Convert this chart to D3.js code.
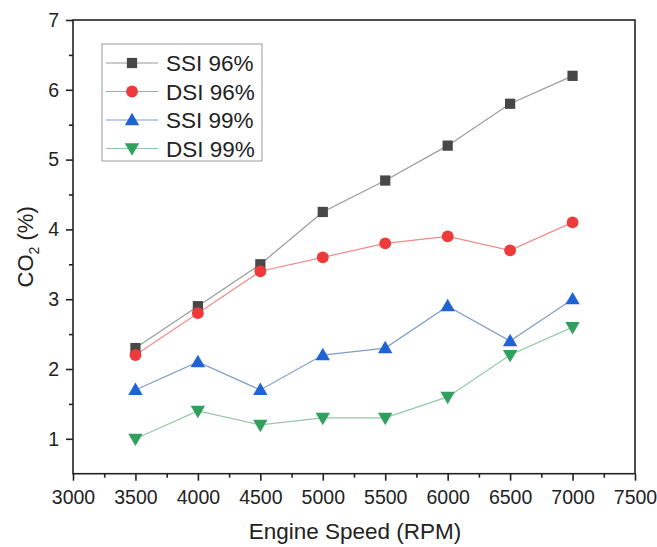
<!DOCTYPE html>
<html><head><meta charset="utf-8">
<script src="https://cdn.jsdelivr.net/npm/d3@7"></script>
<style>body{margin:0;background:#fff}svg{display:block}text{font-family:"Liberation Sans",Arial,sans-serif}</style>
</head><body><svg id="c" width="657" height="547"></svg>
<script>
const rpm = [3500,4000,4500,5000,5500,6000,6500,7000];
const ssi96 = [2.3,2.9,3.5,4.25,4.7,5.2,5.8,6.2];
const dsi96 = [2.2,2.8,3.4,3.6,3.8,3.9,3.7,4.1];
const ssi99 = [1.7,2.1,1.7,2.2,2.3,2.9,2.4,3.0];
const dsi99 = [1.0,1.4,1.2,1.3,1.3,1.6,2.2,2.6];
const xTicks = [3000,3500,4000,4500,5000,5500,6000,6500,7000,7500];
const yTicks = [1,2,3,4,5,6,7];
const seriesNames = ["SSI 96%","DSI 96%","SSI 99%","DSI 99%"];

const series = [
  {name:seriesNames[0], values:ssi96, fill:"#474747", line:"#9a9a9a", sym:d3.symbolSquare, size:105, rot:0},
  {name:seriesNames[1], values:dsi96, fill:"#ee3a3a", line:"#ee8a8a", sym:d3.symbolCircle, size:110, rot:0},
  {name:seriesNames[2], values:ssi99, fill:"#1f63d6", line:"#7f9ccc", sym:d3.symbolTriangle, size:90, rot:0},
  {name:seriesNames[3], values:dsi99, fill:"#2fa05e", line:"#93c8a6", sym:d3.symbolTriangle, size:90, rot:180}
];

const svg = d3.select("#c");
const L=73, R=635, T=20, B=473.7;
const x = d3.scaleLinear().domain([3000,7500]).range([L,R]);
const y = d3.scaleLinear().domain([0.5,7]).range([B,T]);

svg.append("rect").attr("x",L).attr("y",T).attr("width",R-L).attr("height",B-T)
  .attr("fill","none").attr("stroke","#222").attr("stroke-width",1.6);

const xa = svg.append("g").attr("transform",`translate(0,${B})`);
xa.call(d3.axisBottom(x).tickValues(xTicks).tickSize(7).tickPadding(9).tickFormat(d3.format("d")));
xa.append("g").call(d3.axisBottom(x).tickValues(d3.range(3250,7500,500)).tickSize(4).tickFormat(""));
const ya = svg.append("g").attr("transform",`translate(${L},0)`);
ya.call(d3.axisLeft(y).tickValues(yTicks).tickSize(7).tickPadding(7).tickFormat(d3.format("d")));
ya.append("g").call(d3.axisLeft(y).tickValues(d3.range(1.5,7,1)).tickSize(4).tickFormat(""));
svg.selectAll(".domain").remove();
svg.selectAll(".tick line").attr("stroke","#222").attr("stroke-width",1.6);
svg.selectAll(".tick text").attr("font-size",19.5).attr("fill","#222");

svg.append("text").attr("x",355).attr("y",539).attr("text-anchor","middle")
  .attr("font-size",22.5).attr("fill","#222").text("Engine Speed (RPM)");
const yl = svg.append("text").attr("transform",`translate(33,${(T+B)/2}) rotate(-90)`)
  .attr("text-anchor","middle").attr("font-size",22).attr("fill","#222");
yl.append("tspan").text("CO");
yl.append("tspan").attr("font-size",14).attr("dy",6).text("2");
yl.append("tspan").attr("dy",-6).text(" (%)");

const line = d3.line().x((d,i)=>x(rpm[i])).y(d=>y(d));
series.forEach(s=>{
  svg.append("path").attr("d",line(s.values)).attr("fill","none").attr("stroke",s.line).attr("stroke-width",1.2);
});
series.forEach(s=>{
  svg.append("g").selectAll("path").data(s.values).join("path")
    .attr("d",d3.symbol(s.sym,s.size))
    .attr("transform",(d,i)=>`translate(${x(rpm[i])},${y(d)+(s.sym===d3.symbolTriangle?(s.rot?-1:1):0)}) rotate(${s.rot})`)
    .attr("fill",s.fill);
});

const lg = svg.append("g");
lg.append("rect").attr("x",102).attr("y",44).attr("width",160).attr("height",117)
  .attr("fill","#fff").attr("stroke","#9a9a9a").attr("stroke-width",1);
series.forEach((s,i)=>{
  const cy = 63 + i*28.5;
  lg.append("line").attr("x1",106).attr("x2",158).attr("y1",cy).attr("y2",cy).attr("stroke",s.line).attr("stroke-width",1.2);
  lg.append("path").attr("d",d3.symbol(s.sym,s.size)).attr("transform",`translate(132,${cy+(s.sym===d3.symbolTriangle?(s.rot?-1:1):0)}) rotate(${s.rot})`).attr("fill",s.fill);
  lg.append("text").attr("x",166).attr("y",cy+8).attr("font-size",22.5).attr("fill","#222").text(s.name);
});
</script></body></html>
